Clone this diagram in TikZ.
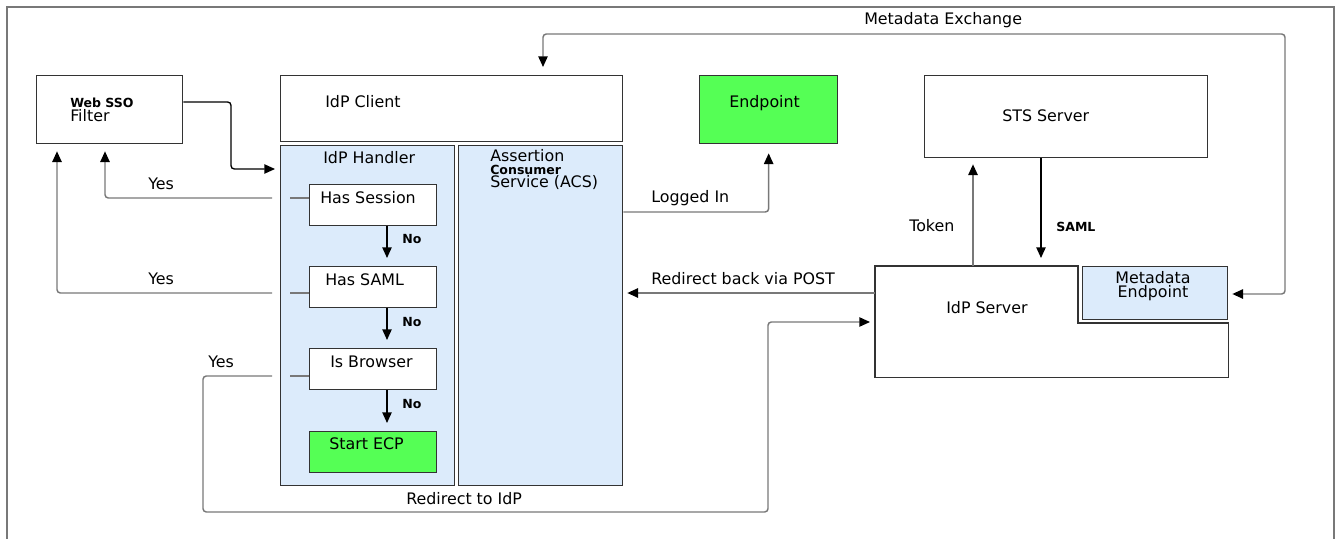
\documentclass[tikz,border=0pt]{standalone}
\usepackage{fontspec}
\setmainfont{DejaVu Sans}
\usetikzlibrary{arrows.meta,calc}
\definecolor{lblue}{HTML}{DCEBFB}
\definecolor{lgreen}{HTML}{55FF55}
\definecolor{boxline}{HTML}{333333}
\definecolor{connline}{HTML}{787878}
\newcommand{\mysmlbf}{\fontsize{9.4pt}{9.4pt}\selectfont\bfseries}
\newcommand{\mytight}{\lineskiplimit=-20pt\relax}
\begin{document}
\begin{tikzpicture}[x=0.75pt,y=-0.75pt,
 box/.style={draw=boxline, line width=1pt, rectangle, inner sep=0pt, anchor=north west},
 conn/.style={draw=connline, line width=1.1pt, rounded corners=2.5pt},
 blk/.style={draw=black, line width=1pt, rounded corners=2.5pt},
 arr/.style={-{Triangle[length=8pt,width=7pt,color=black,fill=black]}},
 arrboth/.style={{Triangle[length=8pt,width=7pt,color=black,fill=black]}-{Triangle[length=8pt,width=7pt,color=black,fill=black]}},
 lbl/.style={anchor=base west, inner sep=0pt, font=\fontsize{11.9pt}{13pt}\selectfont},
 sml/.style={anchor=base west, inner sep=0pt, font=\fontsize{9.4pt}{11pt}\selectfont\bfseries},
]
\useasboundingbox (0,0) rectangle (1336,539);
\clip (0,0) rectangle (1336,539);
% frame
\draw[connline, line width=1.1pt] (7,545) -- (7,7) -- (1334,7) -- (1334,545);

% boxes
\node[box, minimum width=109.5pt, minimum height=51pt] (web) at (36,75) {};
\node[box, minimum width=256.5pt, minimum height=49.5pt] (client) at (280,75) {};
\node[box, fill=lblue, minimum width=130.5pt, minimum height=255pt] (handler) at (280,145) {};
\node[box, fill=lblue, minimum width=123pt, minimum height=255pt] (acs) at (458,145) {};
\node[box, fill=white, minimum width=95.25pt, minimum height=30.75pt] (sess) at (309,184) {};
\node[box, fill=white, minimum width=95.25pt, minimum height=30.75pt] (saml) at (309,266) {};
\node[box, fill=white, minimum width=95.25pt, minimum height=30.75pt] (browser) at (309,348) {};
\node[box, fill=lgreen, minimum width=95.25pt, minimum height=30.75pt] (ecp) at (309,431) {};
\node[box, fill=lgreen, minimum width=103.5pt, minimum height=51pt] (endp) at (699,75) {};
\node[box, minimum width=212.25pt, minimum height=61.5pt] (sts) at (924,75) {};
\node[box, draw=none, minimum width=264pt, minimum height=82.5pt] (idps) at (875,266) {};
\draw[boxline, line width=1pt] (idps.north west) -- (1078,266) -- (1078,323) -- (idps.east |- 0,323) -- (idps.south east) -- (idps.south west) -- cycle;
\node[box, fill=lblue, minimum width=108.75pt, minimum height=39.75pt] (meta) at (1082,266) {};

% texts
\node[lbl, align=left, font={\fontsize{11.9pt}{10.5pt}\selectfont\mytight}] (tweb) at (70,121) {{\mysmlbf Web SSO}\\Filter};
\node[lbl] (tclient) at (325,107) {IdP Client};
\node[lbl] (thandler) at (323,163) {IdP Handler};
\node[lbl] (tsess) at (320,203) {Has Session};
\node[lbl] (tsaml) at (325,285) {Has SAML};
\node[lbl] (tbrowser) at (330,367) {Is Browser};
\node[lbl] (tecp) at (329,449) {Start ECP};
\node[sml] (no1) at (402,243) {No};
\node[sml] (no2) at (402,326) {No};
\node[sml] (no3) at (402,408) {No};
\node[lbl] (yes1) at (148,189) {Yes};
\node[lbl] (yes2) at (148,284) {Yes};
\node[lbl] (yes3) at (208,367) {Yes};
\node[lbl] (tredir) at (406,504) {Redirect to IdP};
\node[lbl, align=left, font={\fontsize{11.9pt}{9.4pt}\selectfont\mytight}] (tacs) at (490,187) {Assertion\\{\mysmlbf Consumer}\\Service (ACS)};
\node[lbl] (tendp) at (729,107) {Endpoint};
\node[lbl] (tlogged) at (651,202) {Logged In};
\node[lbl] (tpost) at (651,284) {Redirect back via POST};
\node[lbl] (tmex) at (864,25) {Metadata Exchange};
\node[lbl] (tsts) at (1002,121) {STS Server};
\node[lbl] (ttoken) at (909,231) {Token};
\node[sml] (tsamlarr) at (1056,231) {SAML};
\node[lbl] (tidps) at (946,313) {IdP Server};
\node[lbl, anchor=base, align=center, font={\fontsize{11.9pt}{10pt}\selectfont\mytight}] (tmeta) at (1153,297) {Metadata\\Endpoint};

% connectors
\draw[blk, arr, shorten >=3.75pt] ($(web.north east)+(0,27)$) -| (231,169) -- (handler.west |- 0,169);

\draw[conn] ($(sess.north west)+(-19,14)$) -- ($(sess.north west)+(0,14)$);
\draw[conn] ($(saml.north west)+(-19,27)$) -- ($(saml.north west)+(0,27)$);
\draw[conn] ($(browser.north west)+(-19,28)$) -- ($(browser.north west)+(0,28)$);

\draw[conn, arr, shorten >=5.25pt] ($(handler.west |- sess.north)+(-8,14)$) -| (web.south -| 105,0);
\draw[conn, arr, shorten >=5.25pt] ($(handler.west |- saml.north)+(-8,27)$) -| (web.south -| 57,0);
\draw[conn, arr, shorten >=3.75pt] ($(handler.west |- browser.north)+(-8,28)$) -| (203,512) -| (768,322) -- (idps.west |- 0,322);

\draw[blk, arr, shorten >=6pt] (sess.south -| 387,0) -- (saml.north -| 387,0);
\draw[blk, arr, shorten >=6pt] (saml.south -| 387,0) -- (browser.north -| 387,0);
\draw[blk, arr, shorten >=6pt] (browser.south -| 387,0) -- (ecp.north -| 387,0);

\draw[conn, arr, shorten >=6.75pt] (acs.east |- 0,212) -| (endp.south);
\draw[conn, arr, shorten >=3pt] (idps.west |- 0,293) -- (acs.east |- 0,293);
\draw[conn, arr, shorten >=4.5pt] (idps.north -| 973,0) -- (sts.south -| 973,0);
\draw[blk, arr, shorten >=6pt] (sts.south -| 1041,0) -- (idps.north -| 1041,0);
\draw[conn, arrboth, shorten <=6pt, shorten >=3pt] (client.north -| 543,0) |- (1285,34) |- (meta.east |- 0,294);
\end{tikzpicture}
\end{document}
